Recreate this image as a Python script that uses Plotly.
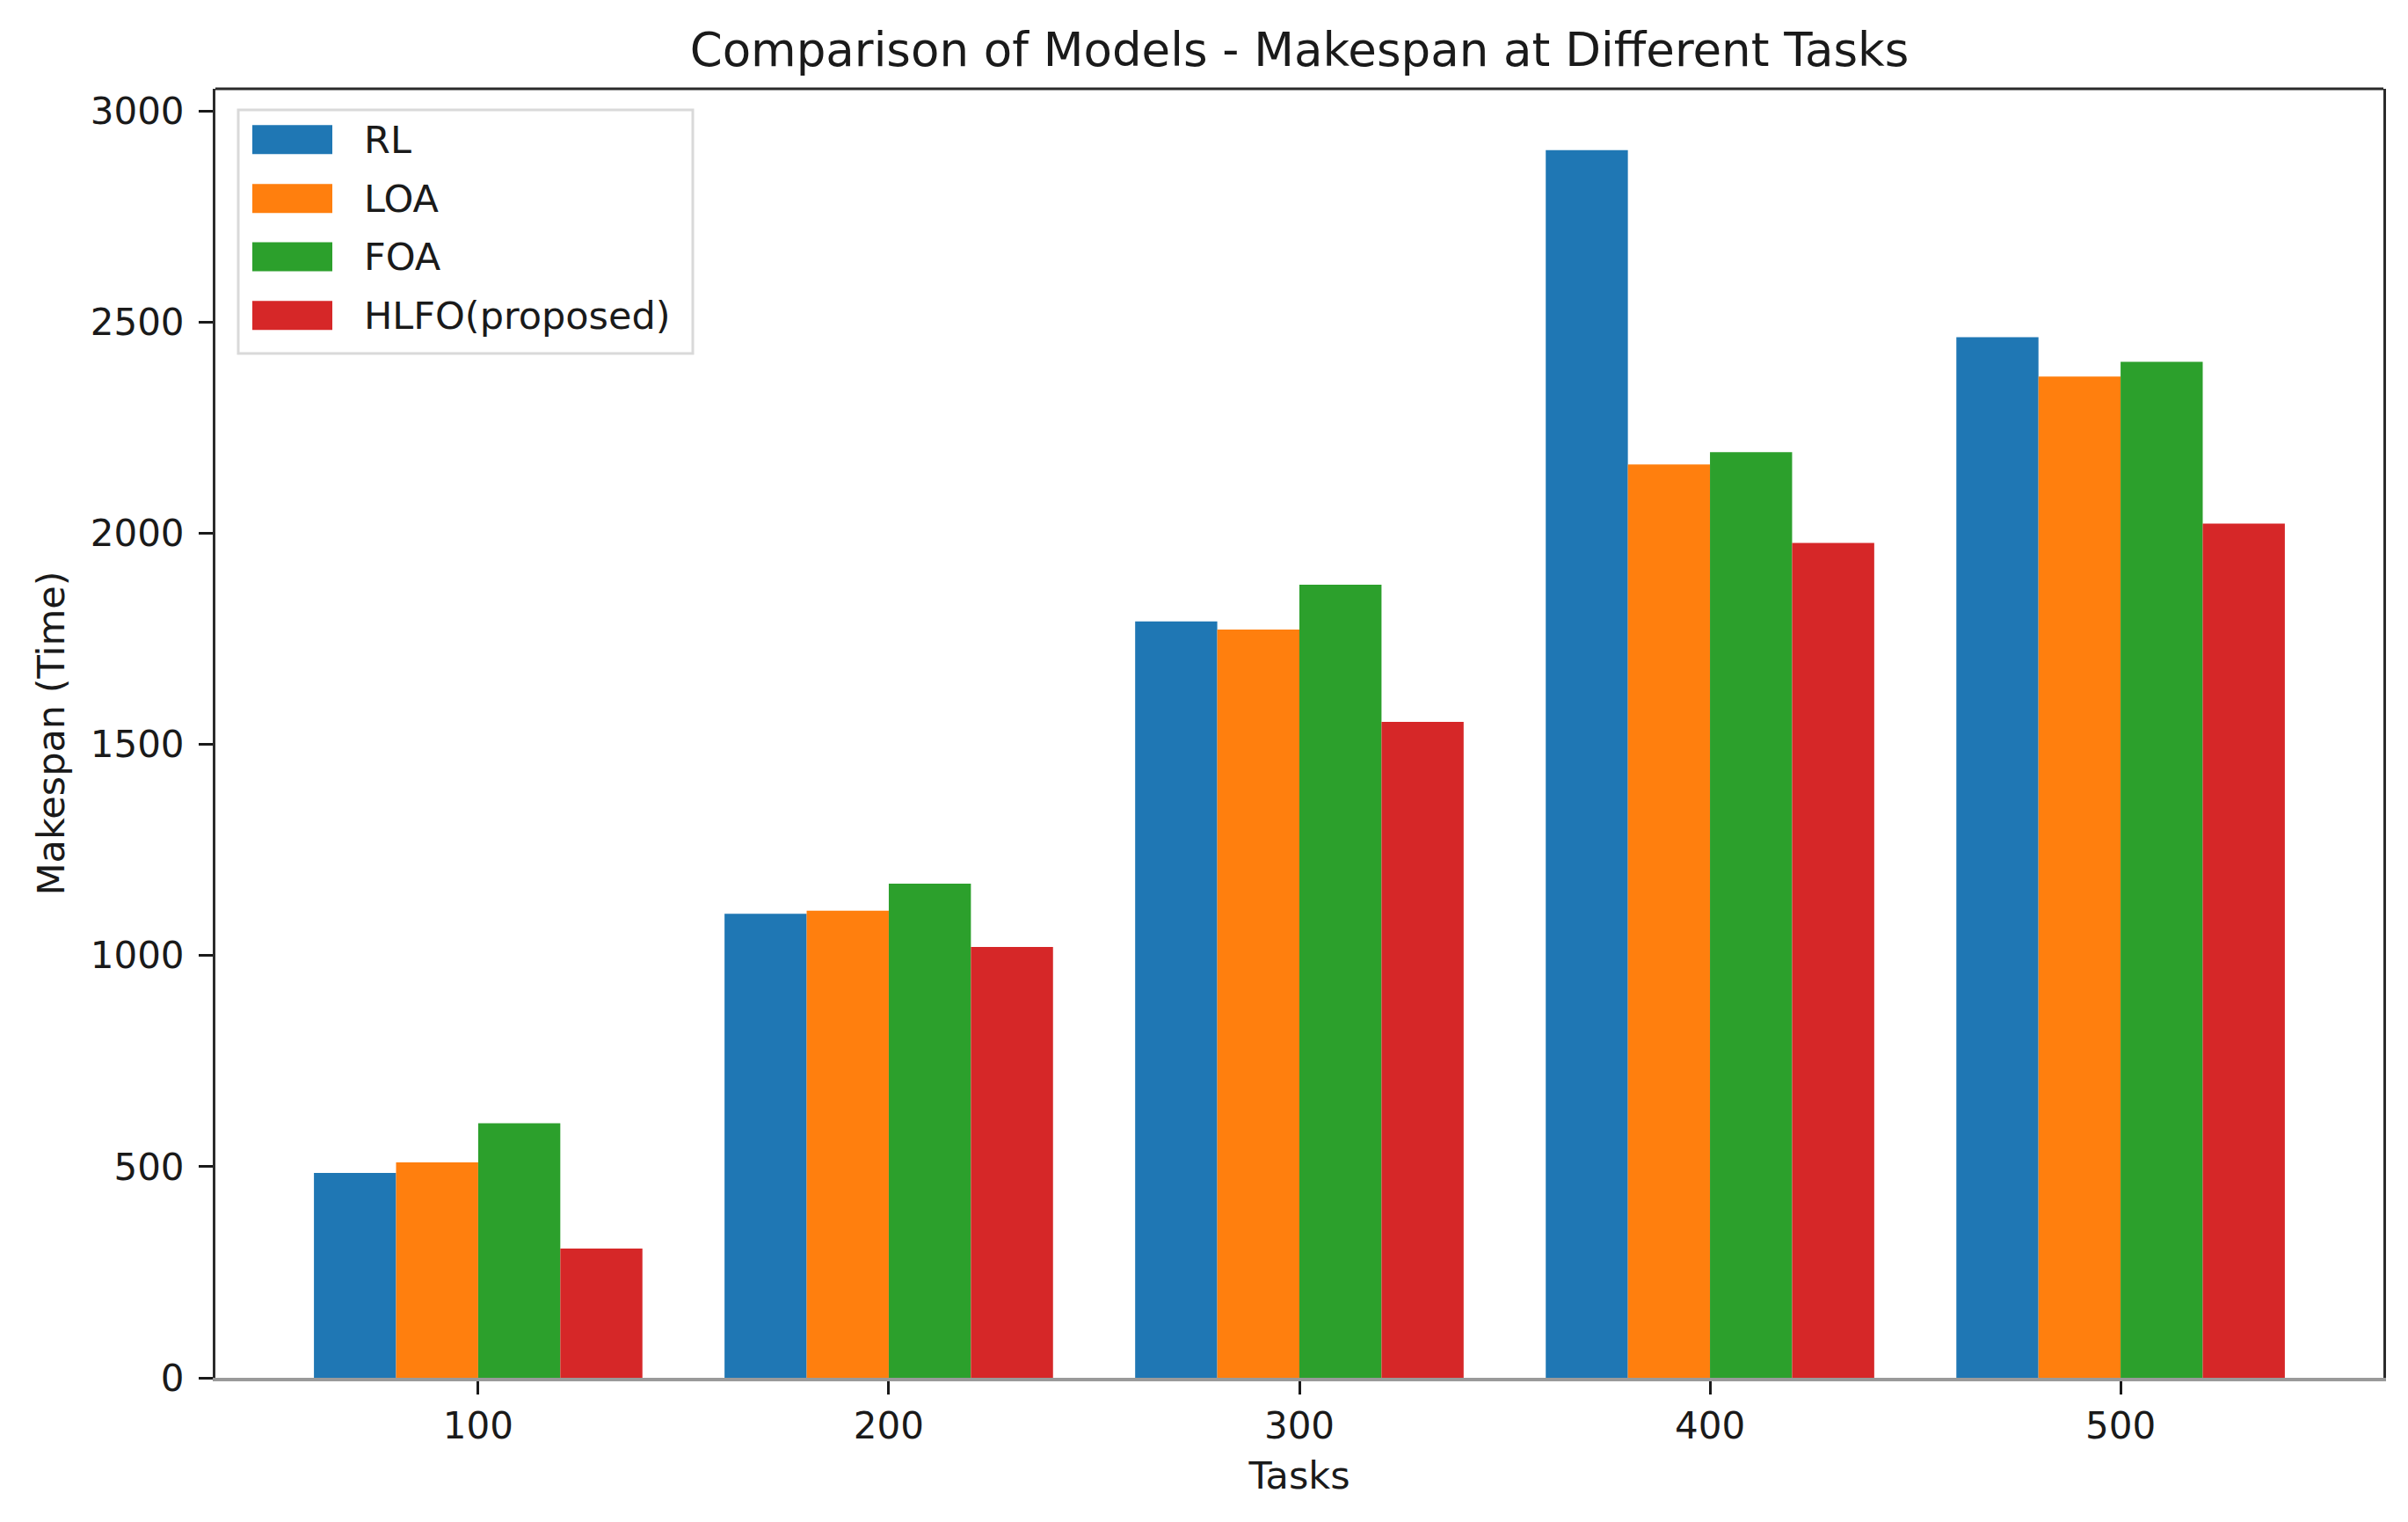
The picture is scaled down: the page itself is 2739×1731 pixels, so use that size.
import plotly.graph_objects as go

# ---------------- data ----------------
tasks = ["100", "200", "300", "400", "500"]
series_names = ["RL", "LOA", "FOA", "HLFO(proposed)"]
rl_values = [485, 1099, 1791, 2907, 2464]
loa_values = [510, 1106, 1772, 2163, 2371]
foa_values = [603, 1170, 1878, 2192, 2406]
hlfo_values = [306, 1020, 1553, 1977, 2023]
colors = ["#1f77b4", "#ff7f0e", "#2ca02c", "#d62728"]
y_ticks = [0, 500, 1000, 1500, 2000, 2500, 3000]

all_series = [rl_values, loa_values, foa_values, hlfo_values]

# ---------------- layout geometry (pixels) ----------------
W, H = 2739, 1731
L, R, T, B = 245, 2739 - 2711, 101, 1731 - 1567
PW, PH = W - L - R, H - T - B
FONT = "DejaVu Sans"

def px_x(p):
    return (p - L) / PW

def px_y(p):
    return (H - B - p) / PH

fig = go.Figure()
for name, vals, col in zip(series_names, all_series, colors):
    fig.add_trace(go.Bar(
        x=tasks, y=vals, name=name,
        marker=dict(color=col, line=dict(width=0)),
        showlegend=False,
    ))

ymax = max(max(s) for s in all_series) * 1.05
n = len(tasks)
span = (n - 1) + 0.8
xr = [-0.4 - 0.05 * span, (n - 1) + 0.4 + 0.05 * span]

shapes = []
annotations = []
# top spine
shapes.append(dict(type="line", xref="paper", yref="paper", x0=0, x1=1, y0=1, y1=1,
                   line=dict(color="#2b2b2b", width=3), layer="above"))

# manual legend (matplotlib-style)
shapes.append(dict(type="rect", xref="paper", yref="paper",
                   x0=px_x(271), x1=px_x(788), y0=px_y(402), y1=px_y(125),
                   fillcolor="rgba(255,255,255,0.85)", line=dict(color="#d9d9d9", width=3),
                   layer="above"))
centers = [158.7, 225.8, 292.0, 358.7]
for name, col, cy in zip(series_names, colors, centers):
    shapes.append(dict(type="rect", xref="paper", yref="paper",
                       x0=px_x(287), x1=px_x(378), y0=px_y(cy + 16.5), y1=px_y(cy - 16.5),
                       fillcolor=col, line=dict(width=0), layer="above"))
    annotations.append(dict(xref="paper", yref="paper", x=px_x(412), y=px_y(cy),
                            xanchor="left", yanchor="middle", showarrow=False,
                            text=name, font=dict(family=FONT, size=43, color="#1a1a1a")))

fig.update_layout(
    width=W, height=H,
    margin=dict(l=L, r=R, t=T, b=B, autoexpand=False),
    paper_bgcolor="white", plot_bgcolor="white",
    barmode="group", bargap=0.2, bargroupgap=0,
    font=dict(family=FONT, size=42, color="#1a1a1a"),
    title=dict(text="Comparison of Models - Makespan at Different Tasks",
               x=0.5, xref="paper", xanchor="center",
               y=1 - 56 / H, yref="container", yanchor="middle",
               font=dict(family=FONT, size=53, color="#1a1a1a")),
    xaxis=dict(type="category", range=xr, showgrid=False, zeroline=False,
               showline=True, linecolor="#9a9a9a", linewidth=4,
               ticks="outside", ticklen=15, tickwidth=3, tickcolor="#1a1a1a",
               tickfont=dict(family=FONT, size=42, color="#1a1a1a"),
               title=dict(text="Tasks", standoff=18,
                          font=dict(family=FONT, size=43, color="#1a1a1a"))),
    yaxis=dict(range=[0, ymax], tickvals=y_ticks, showgrid=False, zeroline=False,
               showline=True, mirror=True, linecolor="#2b2b2b", linewidth=3,
               ticks="outside", ticklen=16, tickwidth=3, tickcolor="#1a1a1a",
               ticklabelstandoff=8,
               tickfont=dict(family=FONT, size=42, color="#1a1a1a"),
               title=dict(text="Makespan (Time)", standoff=16,
                          font=dict(family=FONT, size=43, color="#1a1a1a"))),
    shapes=shapes,
    annotations=annotations,
)

fig.write_html("out.html", config={"displayModeBar": False},
               post_script="document.body.style.margin='0';document.body.style.overflow='hidden';")
